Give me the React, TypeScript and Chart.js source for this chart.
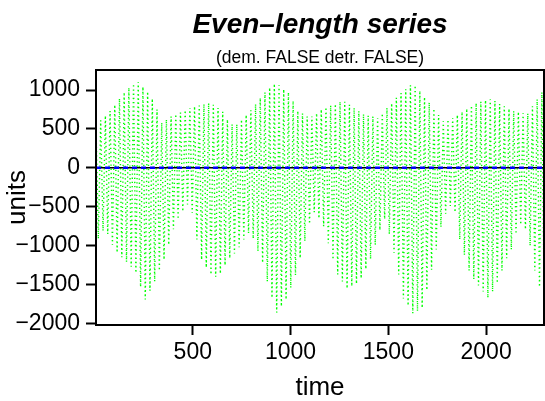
import React, { useEffect, useRef } from "react";
import { Chart, registerables } from "chart.js";

Chart.register(...registerables);

const titleText = "Even–length series";
const subtitleText = "(dem. FALSE detr. FALSE)";
const xLabel = "time";
const yLabel = "units";

const xTicks = [500, 1000, 1500, 2000];
const yTicks = [-2000, -1500, -1000, -500, 0, 500, 1000];
const xRange = [5, 2296];
const yRange = [-2019, 1257];

// series sampled at alternating crest / trough times
const timeStart = 5;
const halfCycle = 12;

const peakValues = [
  540, 610, 670, 730, 810, 890, 970, 1030, 1080, 1100,
  1040, 980, 890, 750, 580, 620, 660, 690, 710, 740,
  770, 790, 800, 820, 830, 810, 770, 720, 620, 560,
  560, 620, 680, 740, 820, 900, 970, 1030, 1080, 1060,
  1010, 970, 860, 730, 700, 660, 660, 700, 750, 780,
  800, 820, 850, 850, 810, 770, 730, 690, 670, 660,
  640, 700, 770, 830, 900, 960, 1010, 1060, 1060, 990,
  910, 840, 760, 680, 600, 620, 640, 680, 720, 760,
  800, 830, 850, 870, 880, 860, 820, 790, 760, 730,
  720, 700, 700, 790, 880, 970,
];

const troughValues = [
  -910, -810, -850, -990, -1090, -1150, -1210, -1270, -1350, -1530,
  -1690, -1580, -1460, -1320, -1180, -990, -790, -660, -560, -470,
  -580, -920, -1180, -1280, -1370, -1400, -1360, -1250, -1160, -1100,
  -1020, -920, -840, -910, -1070, -1220, -1460, -1670, -1860, -1780,
  -1690, -1540, -1380, -1160, -940, -720, -570, -650, -750, -970,
  -1180, -1370, -1460, -1550, -1520, -1490, -1420, -1300, -1170, -990,
  -800, -660, -850, -1090, -1370, -1680, -1770, -1870, -1840, -1800,
  -1570, -1310, -1050, -760, -590, -490, -570, -920, -1120, -1320,
  -1430, -1510, -1590, -1670, -1590, -1480, -1320, -1160, -1050, -850,
  -730, -790, -1000, -1320, -1530, -1700,
];

const meanLevel = 0;

const FONT = "'Liberation Sans', Arial, Helvetica, sans-serif";

function buildSeries() {
  const pts: { x: number; y: number }[] = [];
  for (let k = 0; k < peakValues.length; k++) {
    pts.push({ x: timeStart + 2 * k * halfCycle, y: peakValues[k] });
    if (k < troughValues.length) {
      pts.push({ x: timeStart + (2 * k + 1) * halfCycle, y: troughValues[k] });
    }
  }
  return pts;
}

const boxPlugin = {
  id: "plotBox",
  afterDatasetsDraw(chart: any) {
    const { ctx, chartArea } = chart;
    ctx.save();
    ctx.strokeStyle = "#000";
    ctx.lineWidth = 2;
    ctx.strokeRect(
      chartArea.left,
      chartArea.top,
      chartArea.right - chartArea.left,
      chartArea.bottom - chartArea.top
    );
    ctx.restore();
  },
};

export default function App() {
  const canvasRef = useRef<HTMLCanvasElement | null>(null);

  useEffect(() => {
    const canvas = canvasRef.current;
    if (!canvas) return;
    const series = buildSeries();
    const level = [
      { x: xRange[0], y: meanLevel },
      { x: xRange[1], y: meanLevel },
    ];
    const chart = new Chart(canvas, {
      type: "line",
      data: {
        datasets: [
          {
            label: "mean",
            data: level,
            borderColor: "#0000FF",
            borderWidth: 2.5,
            borderDash: [5, 4],
            pointRadius: 0,
            fill: false,
          },
          {
            label: "zero",
            data: level,
            borderColor: "#000000",
            borderWidth: 1.5,
            pointRadius: 0,
            fill: false,
          },
          {
            label: "series",
            data: series,
            borderColor: "#00FF00",
            borderWidth: 1.4,
            borderDash: [1.3, 2.9],
            pointRadius: 0,
            tension: 0,
            fill: false,
          },
        ],
      },
      options: {
        animation: false,
        responsive: false,
        devicePixelRatio: 1,
        layout: { padding: { top: 0, left: 0, right: 1, bottom: 0 } },
        plugins: {
          legend: { display: false },
          tooltip: { enabled: false },
          title: {
            display: true,
            fullSize: false,
            text: titleText,
            color: "#000",
            font: { family: FONT, size: 28, weight: "bold", style: "italic", lineHeight: 1.2 },
            padding: { top: 8.4, bottom: 0 },
          },
          subtitle: {
            display: true,
            fullSize: false,
            text: subtitleText,
            color: "#000",
            font: { family: FONT, size: 17.5, lineHeight: 1.2 },
            padding: { top: 6, bottom: 1 },
          },
        },
        scales: {
          x: {
            type: "linear",
            min: xRange[0],
            max: xRange[1],
            afterBuildTicks: (scale: any) => {
              scale.ticks = xTicks.map((v) => ({ value: v }));
            },
            afterFit: (scale: any) => {
              scale.height = 76;
            },
            grid: {
              drawOnChartArea: false,
              drawTicks: true,
              tickLength: 10,
              tickWidth: 2,
              tickColor: "#000",
            },
            border: { display: false },
            ticks: {
              color: "#000",
              padding: 4,
              maxRotation: 0,
              autoSkip: false,
              font: { family: FONT, size: 23, lineHeight: 1.2 },
              callback: (v: any) => String(v),
            },
            title: {
              display: true,
              text: xLabel,
              color: "#000",
              font: { family: FONT, size: 26, lineHeight: 1 },
              padding: { top: 0, bottom: 0 },
            },
          },
          y: {
            type: "linear",
            min: yRange[0],
            max: yRange[1],
            afterBuildTicks: (scale: any) => {
              scale.ticks = yTicks.map((v) => ({ value: v }));
            },
            afterFit: (scale: any) => {
              scale.width = 96;
            },
            grid: {
              drawOnChartArea: false,
              drawTicks: true,
              tickLength: 10,
              tickWidth: 2,
              tickColor: "#000",
            },
            border: { display: false },
            ticks: {
              color: "#000",
              padding: 6,
              autoSkip: false,
              font: { family: FONT, size: 23, lineHeight: 1.2 },
              callback: (v: any) => String(v).replace("-", "\u2212"),
            },
            title: {
              display: true,
              text: yLabel,
              color: "#000",
              font: { family: FONT, size: 26, lineHeight: 1 },
              padding: { top: 5, bottom: 0 },
            },
          },
        },
      },
      plugins: [boxPlugin],
    });
    return () => chart.destroy();
  }, []);

  return (
    <div style={{ position: "absolute", left: 0, top: 0, width: 545, height: 401, background: "#fff" }}>
      <canvas ref={canvasRef} width={545} height={401} style={{ display: "block" }} />
    </div>
  );
}
